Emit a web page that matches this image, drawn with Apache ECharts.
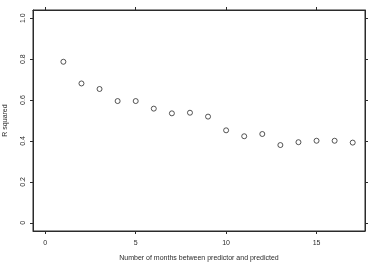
<!DOCTYPE html>
<html>
<head>
<meta charset="utf-8">
<script src="https://cdn.jsdelivr.net/npm/echarts@6/dist/echarts.min.js"></script>
<style>
  html, body { margin: 0; padding: 0; background: #fff; }
  #main { width: 375px; height: 262px; }
</style>
</head>
<body>
<div id="main"></div>
<script>
// months between predictor and predicted
var months = [1, 2, 3, 4, 5, 6, 7, 8, 9, 10, 11, 12, 13, 14, 15, 16, 17];
var rSquared = [0.787, 0.681, 0.654, 0.595, 0.595, 0.558, 0.535, 0.538, 0.519,
                0.452, 0.423, 0.434, 0.380, 0.394, 0.401, 0.401, 0.392];
var xTicks = [0, 5, 10, 15];
var yTicks = [0, 0.2, 0.4, 0.6, 0.8, 1.0];

var ink = "#2b2b2b";
var myChart = echarts.init(document.getElementById("main"));

var points = months.map(function (m, i) { return [m, rSquared[i]]; });

var tickStyle = { show: true, length: 3, inside: false, lineStyle: { color: ink, width: 1 } };
var lineStyle = { color: ink, width: 1 };

var option = {
  animation: false,
  grid: {
    left: 33, right: 10, top: 10, bottom: 31,
    outerBoundsMode: "none",
    show: true, borderColor: ink, borderWidth: 1
  },
  xAxis: [
    {
      type: "value", min: -0.68, max: 17.68,
      name: "Number of months between predictor and predicted",
      nameLocation: "middle", nameGap: 24,
      nameTextStyle: { fontSize: 7, color: ink, fontFamily: "Liberation Sans" },
      axisLine: { show: true, onZero: false, lineStyle: lineStyle },
      axisTick: Object.assign({ customValues: xTicks }, tickStyle),
      axisLabel: { customValues: xTicks, fontSize: 7, color: ink, margin: 9, fontFamily: "Liberation Sans" },
      splitLine: { show: false }
    },
    {
      type: "value", position: "top", min: -0.68, max: 17.68,
      axisLine: { show: true, onZero: false, lineStyle: lineStyle },
      axisTick: Object.assign({ customValues: xTicks }, tickStyle),
      axisLabel: { show: false },
      splitLine: { show: false }
    }
  ],
  yAxis: [
    {
      type: "value", min: -0.04, max: 1.04,
      name: "R squared",
      nameLocation: "middle", nameGap: 24, nameRotate: 90,
      nameTextStyle: { fontSize: 7, color: ink, fontFamily: "Liberation Sans" },
      axisLine: { show: true, onZero: false, lineStyle: lineStyle },
      axisTick: Object.assign({ customValues: yTicks }, tickStyle),
      axisLabel: {
        customValues: yTicks, rotate: 90, fontSize: 7, color: ink, margin: 6,
        fontFamily: "Liberation Sans",
        formatter: function (v) { return v === 0 ? "0" : v.toFixed(1); }
      },
      splitLine: { show: false }
    },
    {
      type: "value", position: "right", min: -0.04, max: 1.04,
      axisLine: { show: true, onZero: false, lineStyle: lineStyle },
      axisTick: Object.assign({ customValues: yTicks }, tickStyle),
      axisLabel: { show: false },
      splitLine: { show: false }
    }
  ],
  series: [
    {
      type: "scatter",
      data: points,
      symbol: "circle",
      symbolSize: 5,
      itemStyle: { color: "#fff", borderColor: ink, borderWidth: 1 }
    }
  ]
};
myChart.setOption(option);
</script>
</body>
</html>
